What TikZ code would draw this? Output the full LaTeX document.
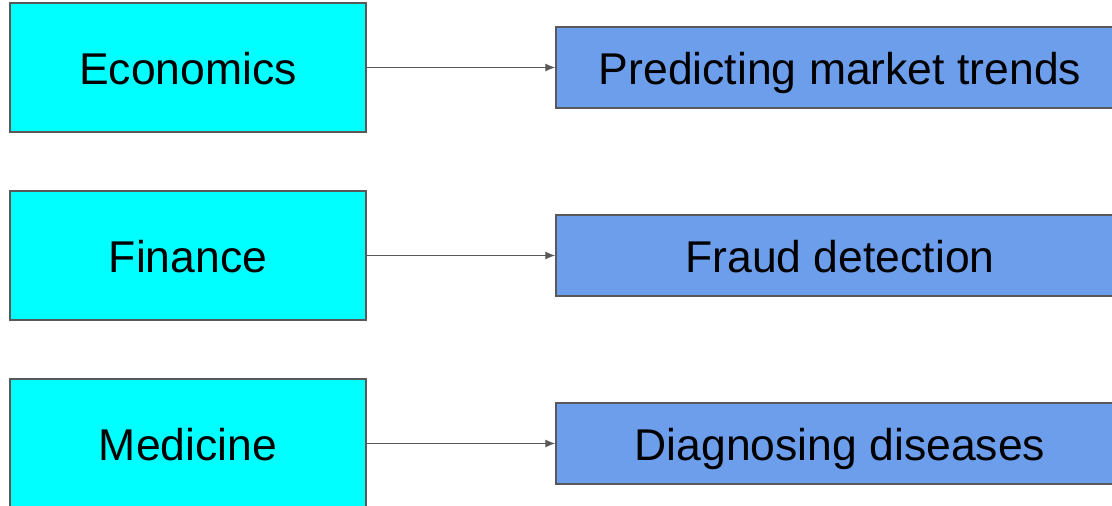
\documentclass[tikz,border=0pt]{standalone}
\usepackage{fontspec}
\setmainfont{Liberation Sans}
\usetikzlibrary{arrows.meta}
\definecolor{fieldcyan}{HTML}{00FFFF}
\definecolor{taskblue}{HTML}{6D9EEB}
\definecolor{edgegray}{HTML}{595959}
\begin{document}
\begin{tikzpicture}[x=1pt,y=-1pt,
  label font/.style={font=\fontsize{44.5pt}{50pt}\selectfont,
    text height=33pt, text depth=-1pt},
  field/.style={draw=edgegray, line width=1.4pt, fill=fieldcyan,
    minimum width=356pt, minimum height=129pt, inner sep=0pt, label font},
  task/.style={draw=edgegray, line width=1.4pt, fill=taskblue,
    minimum width=568pt, minimum height=81pt, inner sep=0pt, label font},
  link/.style={draw=edgegray, line width=1.3pt,
    -{Latex[length=10pt,width=8pt]}}]
\useasboundingbox (0,0) rectangle (1112,506);
\clip (0,0) rectangle (1112,506);
\fill[white] (0,0) rectangle (1112,506);

\node[field] (econ) at (188,67.5) {Economics};
\node[field] (fin)  at (188,255.5) {Finance};
\node[field] (med)  at (188,443.5) {Medicine};

\node[task] (trend) at (840,67.5) {Predicting market trends};
\node[task] (fraud) at (840,255.5) {Fraud detection};
\node[task] (diag)  at (840,443.5) {Diagnosing diseases};

\draw[link] (econ) -- (trend);
\draw[link] (fin) -- (fraud);
\draw[link] (med) -- (diag);
\end{tikzpicture}
\end{document}
